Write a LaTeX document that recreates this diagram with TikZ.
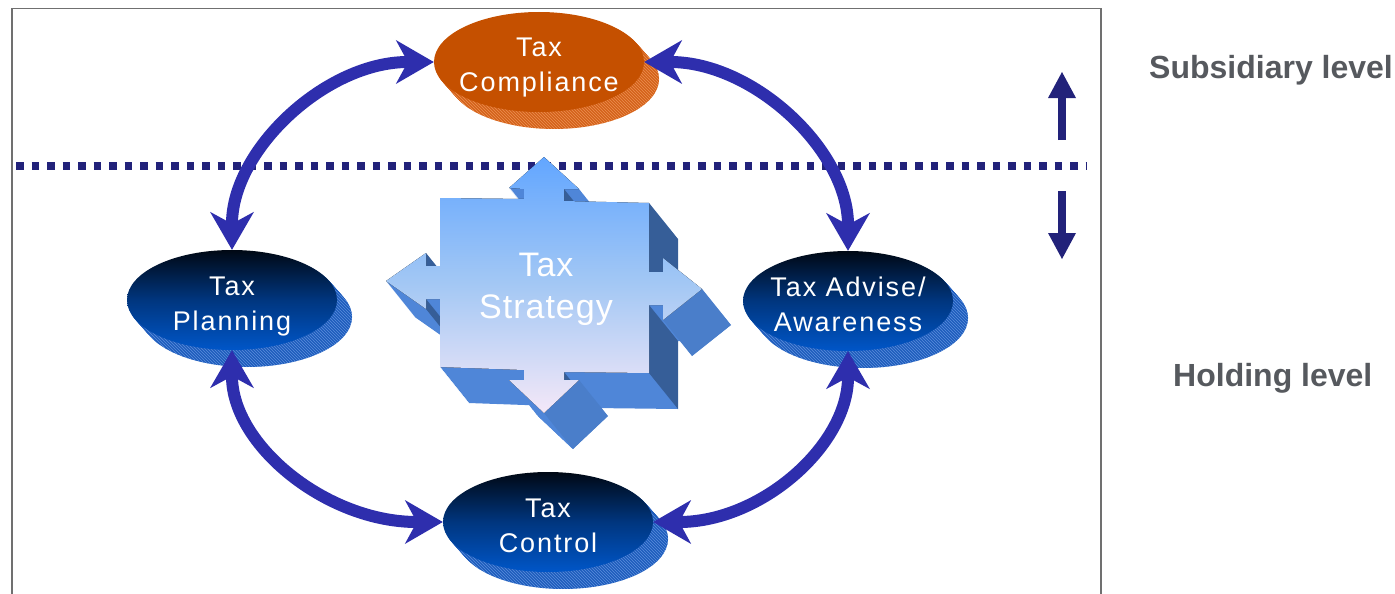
\documentclass[tikz,border=0pt]{standalone}
\usepackage{fontspec}
\setmainfont{Liberation Sans}
\newfontfamily\discfont[LetterSpace=7]{Liberation Sans}
\newfontfamily\stratfont[LetterSpace=3]{Liberation Sans}
\usetikzlibrary{arrows.meta,shapes.geometric,patterns}

\definecolor{ringblue}{HTML}{2E2EAD}
\definecolor{levelnavy}{HTML}{22227A}
\definecolor{framegray}{HTML}{707070}
\definecolor{labelgray}{HTML}{56595E}
\definecolor{compfill}{HTML}{C55000}
\definecolor{compside}{HTML}{D4621A}
\definecolor{compline}{HTML}{EC9050}
\definecolor{disctop}{HTML}{000814}
\definecolor{discmid}{HTML}{00367F}
\definecolor{discbot}{HTML}{0056C8}
\definecolor{discside}{HTML}{1E5CBC}
\definecolor{discline}{HTML}{5A8EDC}
\definecolor{stratlight}{HTML}{62A6FF}
\definecolor{stratmid}{HTML}{A4C8F4}
\definecolor{stratpale}{HTML}{F4E8F8}
\definecolor{stratside}{HTML}{4F86D8}
\definecolor{stratdark}{HTML}{365E98}
\definecolor{strathead}{HTML}{4A7ECA}

% outline of the strategy cross (front face)
\newcommand{\crossoutline}{(544,157) -- (579,189) -- (564,189) -- (564,201) -- (649,203) -- (649,272) -- (663,272) -- (663,258) -- (702,289) -- (663,320) -- (663,305) -- (649,305) -- (649,373) -- (564,372) -- (564,380) -- (579,380) -- (544,413) -- (509,380) -- (524,380) -- (524,370) -- (440,367) -- (440,299) -- (426,299) -- (426,309) -- (386,281) -- (426,253) -- (426,266) -- (440,266) -- (440,198) -- (524,199) -- (524,189) -- (509,188) -- cycle}

\begin{document}
\begin{tikzpicture}[x=1pt,y=-1pt]
\tikzstyle{disc}=[ellipse, minimum width=210pt, minimum height=100pt, inner xsep=-25pt, inner ysep=0pt, text height=60pt, text depth=0pt, align=center, text=white, font=\discfont\fontsize{27}{35}\selectfont]
\tikzstyle{bluedisc}=[disc, top color=disctop, bottom color=discbot, middle color=discmid]
\tikzstyle{ring}=[color=ringblue, line width=12pt, >={Stealth[length=38pt,width=44pt,inset=12pt,line width=0pt]}, <->]
\tikzstyle{levelline}=[draw=levelnavy, line width=7.5pt, dash pattern=on 7.5pt off 8pt]
\tikzstyle{levelarrow}=[color=levelnavy, line width=8pt, -{Triangle[length=26pt,width=28pt,line width=0pt]}]
\tikzstyle{levellabel}=[anchor=base west, inner sep=0pt, text=labelgray, font=\bfseries\fontsize{32}{38}\selectfont]
\useasboundingbox (0,0) rectangle (1395,594);

% frame and level divider
\draw[framegray, line width=1.3pt] (12,600) -- (12,8.5) -- (1101,8.5) -- (1101,600);
\draw[levelline] (16,166) -- (1086,166);

% strategy cross: depth, side faces, front
\foreach \k in {1,...,36} \fill[stratside, shift={(0.8*\k,\k)}] \crossoutline;
\fill[stratdark] (649,203) -- (649,272) -- (678,308) -- (678,239) -- cycle;
\fill[stratdark] (649,305) -- (649,373) -- (678,409) -- (678,341) -- cycle;
\fill[stratdark] (564,189) -- (564,201) -- (593,237) -- (593,225) -- cycle;
\fill[stratdark] (564,372) -- (564,380) -- (593,416) -- (593,408) -- cycle;
\fill[stratdark] (426,253) -- (426,266) -- (455,302) -- (455,289) -- cycle;
\fill[stratdark] (426,299) -- (426,309) -- (455,345) -- (455,335) -- cycle;
\fill[strathead] (702,289) -- (663,320) -- (692,356) -- (731,325) -- cycle;
\fill[strathead] (579,380) -- (544,413) -- (573,449) -- (608,416) -- cycle;
\fill[top color=stratlight, bottom color=stratpale, middle color=stratmid] \crossoutline;
\node[font=\stratfont\fontsize{34}{42}\selectfont, text=white, align=center] (strat) at (546,289) {Tax\\Strategy};

% disc depth
\foreach \k in {1,...,16} \fill[compside] (539+0.94*\k,62+1.06*\k) ellipse [x radius=105pt, y radius=50pt];
\fill[pattern=north west lines, pattern color=compline] (554,79) ellipse [x radius=105pt, y radius=50pt];
\foreach \cx/\cy in {232/300, 848/301, 548/522} {
  \foreach \k in {1,...,16} \fill[discside] (\cx+0.94*\k,\cy+1.06*\k) ellipse [x radius=105pt, y radius=50pt];
  \fill[pattern=north west lines, pattern color=discline] (\cx+15,\cy+17) ellipse [x radius=105pt, y radius=50pt];
}

% discs
\node[disc, fill=compfill] (comp) at (539,62) {Tax\\Compliance};
\node[bluedisc] (plan) at (232,300) {Tax\\Planning};
\node[bluedisc] (adv) at (848,301) {Tax Advise/\\Awareness};
\node[bluedisc] (ctrl) at (548,522) {Tax\\Control};

% ring of arrows
\draw[ring] (comp.west) .. controls +(-108,0) and +(0,-100) .. (plan.north);
\draw[ring] (comp.east) .. controls +(110,0) and +(0,-100) .. (adv.north);
\draw[ring] (plan.south) .. controls +(0,95) and +(-116,0) .. (ctrl.west);
\draw[ring] (ctrl.east) .. controls +(108,0) and +(0,94) .. (adv.south);

% level arrows and labels
\coordinate (uptail) at (1062,140);
\coordinate (uptip) at (1062,72);
\coordinate (downtail) at (1062,191);
\coordinate (downtip) at (1062,259);
\draw[levelarrow] (uptail) -- (uptip);
\draw[levelarrow] (downtail) -- (downtip);
\node[levellabel] (sub) at (1149,78) {Subsidiary level};
\node[levellabel] (hold) at (1173,386) {Holding level};
\end{tikzpicture}
\end{document}
